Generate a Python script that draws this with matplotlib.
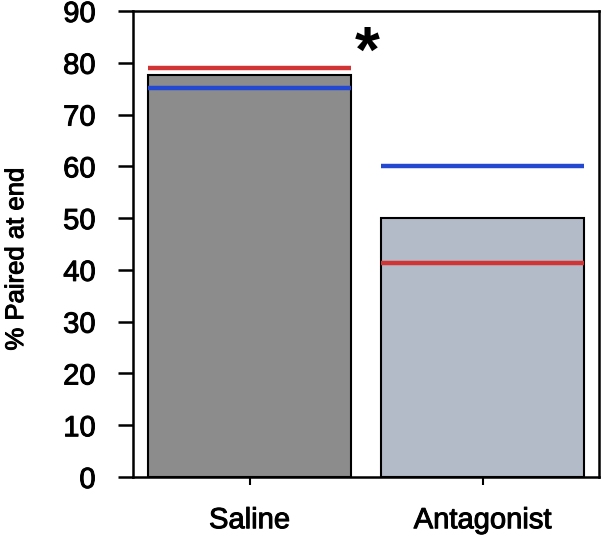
import matplotlib
matplotlib.use("Agg")
from matplotlib import pyplot as plt
from matplotlib import patheffects as pe

# values
groups = ["Saline", "Antagonist"]
bar_values = [77.6, 50.1]
red_values = [79.0, 41.3]
blue_values = [75.2, 60.1]
bar_colors = ["#8c8c8c", "#b3bac8"]
y_ticks = [0, 10, 20, 30, 40, 50, 60, 70, 80, 90]

plt.rcParams["font.family"] = ["Liberation Sans", "DejaVu Sans"]

fig = plt.figure(figsize=(6.01, 5.36), dpi=100)
ax = fig.add_axes([0.2213, 0.110, 0.7754, 0.8695])

x = list(range(len(groups)))
width = 0.875
ax.bar(x, bar_values, width=width, color=bar_colors, edgecolor="black", linewidth=1.5, zorder=2)

for k in x:
    ax.hlines(red_values[k], k - width / 2, k + width / 2, color="#d13434", linewidth=3.2, zorder=3)
    ax.hlines(blue_values[k], k - width / 2, k + width / 2, color="#2548d0", linewidth=3.2, zorder=3)

ax.text(0.506, 81.6, "*", fontsize=46, fontweight="bold", ha="center", va="center")

# thicken text a little to mimic the medium-weight Helvetica
thick = [pe.withStroke(linewidth=0.7, foreground="black")]

ax.set_xlim(-0.5, 1.5)
ax.set_ylim(0, 90)
ax.set_yticks(y_ticks)
ax.set_xticks(x)
ax.set_xticklabels(groups, fontsize=21, path_effects=thick)
ax.set_yticklabels([str(v) for v in y_ticks], fontsize=21, path_effects=thick)
ax.set_ylabel("% Paired at end", fontsize=18.5, path_effects=thick)
ax.yaxis.set_label_coords(-0.225, 0.468)

for s in ax.spines.values():
    s.set_linewidth(1.8)
ax.tick_params(axis="y", length=11, width=1.8, pad=16)
ax.tick_params(axis="x", length=6, width=1.5, pad=15)

fig.savefig("out.png", dpi=100)
plt.close()
